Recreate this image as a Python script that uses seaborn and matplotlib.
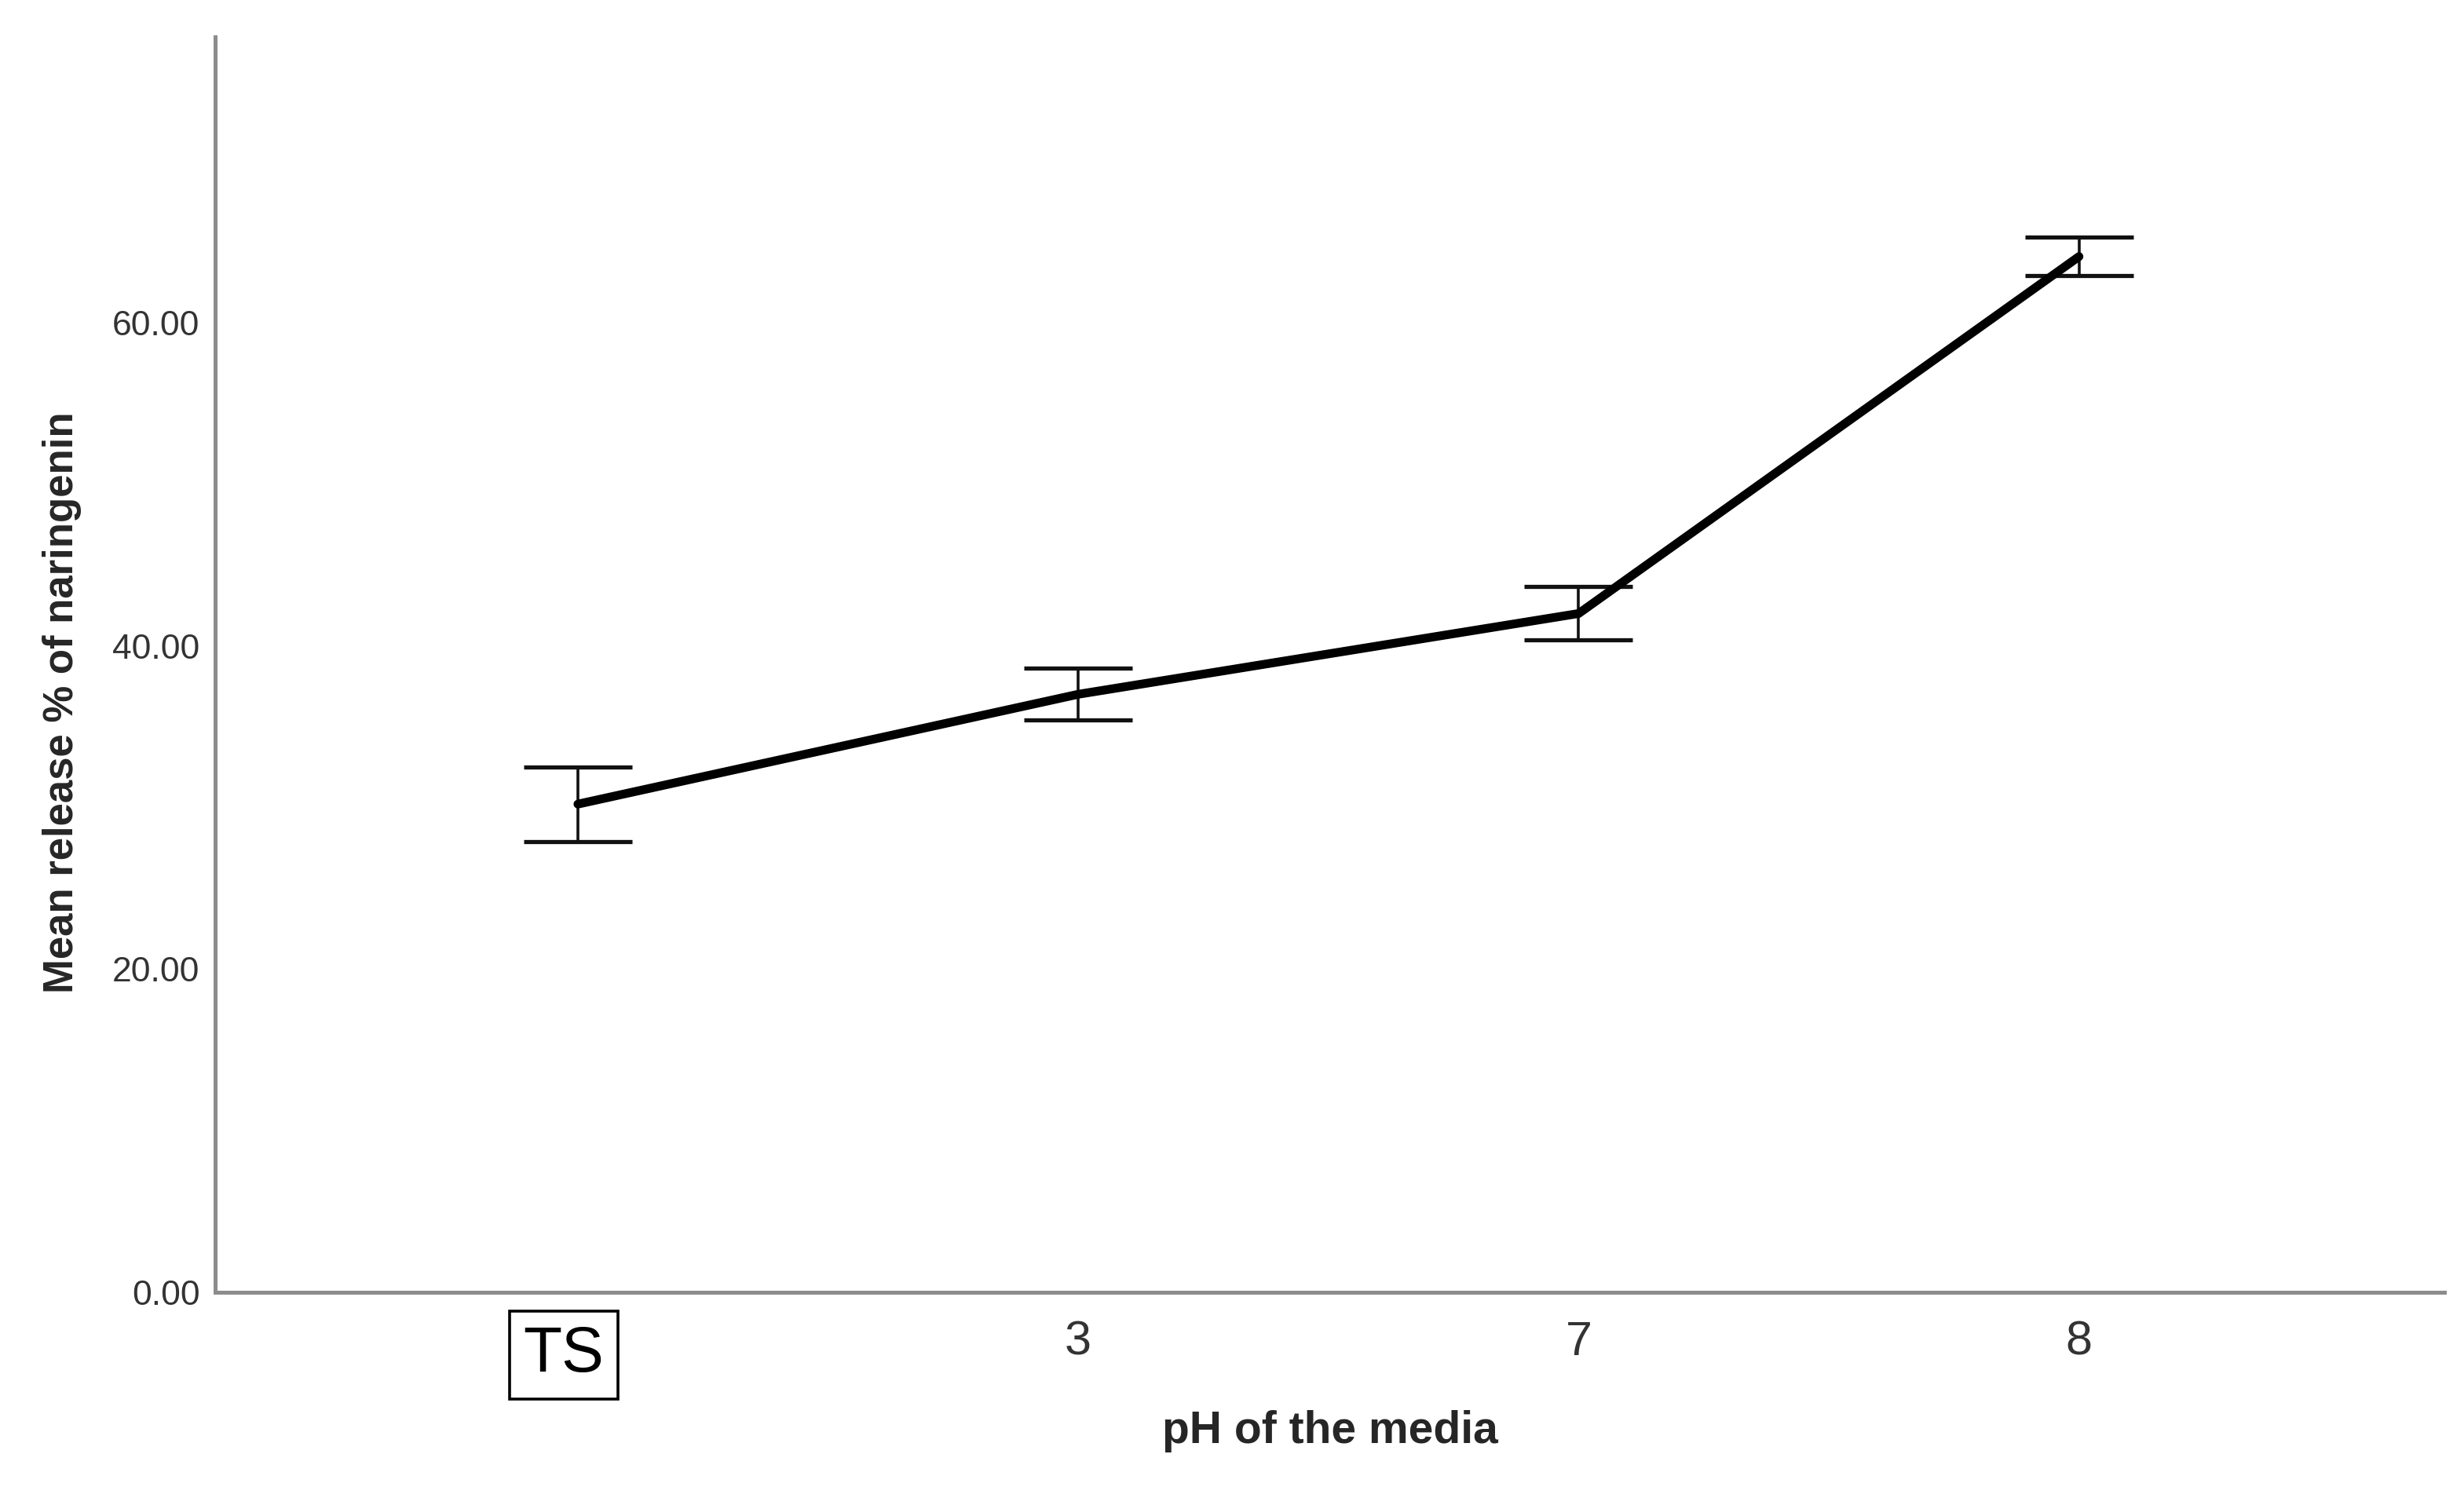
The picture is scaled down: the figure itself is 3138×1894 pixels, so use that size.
import matplotlib
matplotlib.use("Agg")
import matplotlib.pyplot as plt
from matplotlib.transforms import ScaledTranslation
from matplotlib.ticker import FormatStrFormatter
import pandas as pd
import seaborn as sns

# pH groups and mean release (%) with error-bar half widths
ph_groups = ["TS", "3", "7", "8"]
mean_release = [30.2, 37.0, 42.0, 64.1]
err_half = [2.3, 1.6, 1.65, 1.2]
y_ticks = [0, 20, 40, 60]

sns.set_style("white")
plt.rcParams["font.family"] = ["Liberation Sans", "DejaVu Sans"]

df = pd.DataFrame({"ph": ph_groups, "release": mean_release, "err": err_half})

fig = plt.figure(figsize=(15.69, 9.47), dpi=200)
ax = fig.add_axes([0.0873, 0.1312, 0.9047, 0.844])

sns.lineplot(data=df, x="ph", y="release", ax=ax, color="black",
             linewidth=4.0, sort=False, zorder=3)
ax.errorbar(df.ph, df.release, yerr=df.err, fmt="none", ecolor="#111111",
            elinewidth=1.3, capsize=24.8, capthick=1.9, zorder=2)

ax.set(xlim=(-0.725, 3.73), ylim=(0, 77.7))
ax.set_yticks(y_ticks)
ax.yaxis.set_major_formatter(FormatStrFormatter("%.2f"))
ax.set_xticks(range(len(ph_groups)), ph_groups)
ax.tick_params(axis="both", length=0)
ax.tick_params(axis="y", labelsize=16, labelcolor="#333333", pad=7)
ax.tick_params(axis="x", labelsize=22, labelcolor="#333333", pad=13)

# the first group label sits in a box, as in the SPSS output
ts = ax.get_xticklabels()[0]
ts.set_fontsize(29)
ts.set_color("black")
ts.set_y(-0.004)
ts.set_transform(ts.get_transform()
                 + ScaledTranslation(-0.09, 0, fig.dpi_scale_trans))
ts.set_bbox(dict(boxstyle="square,pad=0.22", facecolor="none",
                 edgecolor="black", linewidth=1.3))

for side in ["top", "right"]:
    ax.spines[side].set_visible(False)
for side in ["left", "bottom"]:
    ax.spines[side].set_color("#8c8c8c")
    ax.spines[side].set_linewidth(1.8)

ax.set_xlabel("pH of the media", fontsize=20.5, fontweight="bold")
ax.set_ylabel("Mean release % of naringenin", fontsize=19, fontweight="bold")
ax.xaxis.set_label_coords(0.5, -0.094)
ax.yaxis.set_label_coords(-0.060, 0.47)

fig.savefig("out.png", dpi=200)
